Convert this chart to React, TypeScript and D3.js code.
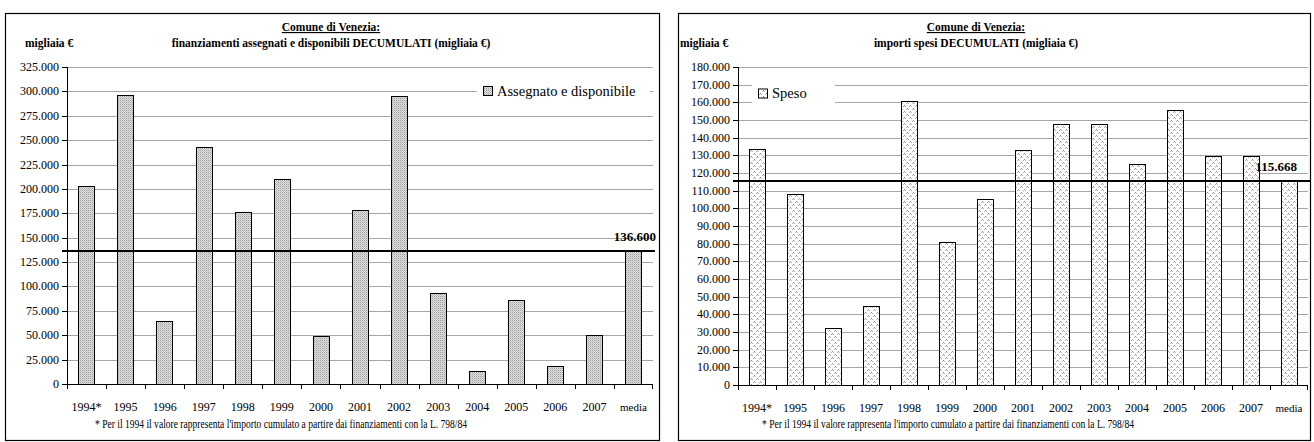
import React from 'react';
import * as d3 from 'd3';

const categories = ['1994*', '1995', '1996', '1997', '1998', '1999', '2000', '2001', '2002', '2003', '2004', '2005', '2006', '2007', 'media'];
const assegnatoValues = [203000, 296500, 65000, 243000, 176000, 210000, 49000, 178000, 295500, 93000, 13000, 86000, 18000, 50000, 136600];
const spesoValues = [133500, 108000, 32000, 45000, 160500, 81000, 105500, 133000, 148000, 148000, 125000, 155500, 129500, 129500, 115668];
const assegnatoMean = 136600;
const spesoMean = 115668;
const assegnatoTicks = d3.range(0, 325001, 25000);
const spesoTicks = d3.range(0, 180001, 10000);
const footnote = "* Per il 1994 il valore rappresenta l'importo cumulato a partire dai finanziamenti con la L. 798/84";

const it = d3.formatLocale({ decimal: ',', thousands: '.', grouping: [3], currency: ['€', ''] });
const fmt = it.format(',d');
const fmt3 = it.format(',.0f');

const FONT = "'Liberation Serif', 'Times New Roman', Times, serif";

type ChartProps = {
  box: [number, number, number, number];
  plot: { x0: number; x1: number; yTop: number; yBottom: number };
  yMax: number;
  ticks: number[];
  values: number[];
  mean: number;
  titleX: number;
  subtitle: string;
  unitX: number;
  legend: { x: number; y: number; w: number; h: number; label: string };
  pattern: string;
  footX: number;
  meanLabelX: number;
};

function Chart(p: ChartProps) {
  const x = d3.scaleBand<string>().domain(categories).range([p.plot.x0, p.plot.x1]).padding(0);
  const y = d3.scaleLinear().domain([0, p.yMax]).range([p.plot.yBottom, p.plot.yTop]);
  const bw = x.bandwidth() * 0.42;
  const [bx, by, bwid, bh] = p.box;
  const meanY = Math.round(y(p.mean));
  return (
    <g style={{ fontFamily: FONT }}>
      <rect x={bx + 0.5} y={by + 0.5} width={bwid} height={bh} fill="#fff" stroke="#000" strokeWidth={1.2} />
      {p.ticks.map((t) => (
        <line key={'g' + t} x1={p.plot.x0} x2={p.plot.x1} y1={Math.round(y(t)) + 0.5} y2={Math.round(y(t)) + 0.5} stroke="#a6a6a6" strokeWidth={1} />
      ))}
      <rect x={p.legend.x} y={p.legend.y} width={p.legend.w} height={p.legend.h} fill="#fff" />
      {p.values.map((v, i) => {
        const cx = (x(categories[i]) as number) + x.bandwidth() / 2;
        const top = y(v);
        return (
          <rect key={'b' + i} x={Math.round(cx - bw / 2) + 0.5} y={Math.round(top) + 0.5} width={Math.round(bw)} height={Math.round(y(0)) - Math.round(top)} fill={`url(#${p.pattern})`} stroke="#000" strokeWidth={1} />
        );
      })}
      <line x1={p.plot.x0 + 0.5} x2={p.plot.x0 + 0.5} y1={p.plot.yTop} y2={p.plot.yBottom + 0.5} stroke="#000" />
      {p.ticks.map((t) => (
        <g key={'t' + t}>
          <line x1={p.plot.x0 - 5} x2={p.plot.x0} y1={Math.round(y(t)) + 0.5} y2={Math.round(y(t)) + 0.5} stroke="#000" />
          <text x={p.plot.x0 - 8} y={y(t) + 4} textAnchor="end" fontSize={12} fontFamily={FONT}>{fmt(t)}</text>
        </g>
      ))}
      <line x1={p.plot.x0} x2={p.plot.x1} y1={Math.round(y(0)) + 0.5} y2={Math.round(y(0)) + 0.5} stroke="#000" />
      {categories.map((c, i) => (
        <line key={'xt' + i} x1={Math.round(x(c) as number) + 0.5} x2={Math.round(x(c) as number) + 0.5} y1={y(0)} y2={y(0) + 5} stroke="#000" />
      ))}
      <line x1={p.plot.x1 - 0.5} x2={p.plot.x1 - 0.5} y1={y(0)} y2={y(0) + 5} stroke="#000" />
      {categories.map((c) => (
        <text key={'xl' + c} x={(x(c) as number) + x.bandwidth() / 2} y={y(0) + 27} textAnchor="middle" fontSize={c === 'media' ? 11 : 12} fontFamily={FONT}>{c}</text>
      ))}
      <line x1={p.plot.x0 - 5} x2={p.plot.x1 + 2} y1={meanY} y2={meanY} stroke="#000" strokeWidth={2} />
      <text x={p.meanLabelX} y={meanY - 10} textAnchor="end" fontSize={13} fontWeight="bold" fontFamily={FONT}>{fmt3(p.mean)}</text>
      <rect x={p.legend.x + 6.5} y={p.legend.y + p.legend.h / 2 - 4.5} width={9} height={9} fill={`url(#${p.pattern})`} stroke="#000" />
      <text x={p.legend.x + 20} y={p.legend.y + p.legend.h / 2 + 4.5} fontSize={14.5} fontFamily={FONT}>{p.legend.label}</text>
      <text x={p.titleX} y={31} textAnchor="middle" fontSize={11.5} fontWeight="bold" fontFamily={FONT} textDecoration="underline">Comune di Venezia:</text>
      <text x={p.titleX} y={47} textAnchor="middle" fontSize={11.5} fontWeight="bold" fontFamily={FONT}>{p.subtitle}</text>
      <text x={p.unitX} y={47} fontSize={11.5} fontWeight="bold" fontFamily={FONT}>migliaia €</text>
      <text x={p.footX} y={428} fontSize={12.5} fontFamily={FONT} textLength={372} lengthAdjust="spacingAndGlyphs">{footnote}</text>
    </g>
  );
}

export default function App() {
  return (
    <svg width={1314} height={442} style={{ position: 'absolute', left: 0, top: 0, background: '#fff' }}>
      <defs>
        <pattern id="pDense" width={2} height={2} patternUnits="userSpaceOnUse">
          <rect width={2} height={2} fill="#dedede" />
          <rect x={0} y={0} width={1} height={1} fill="#a0a0a0" />
          <rect x={1} y={1} width={1} height={1} fill="#c4c4c4" />
        </pattern>
        <pattern id="pSparse" width={6} height={6} patternUnits="userSpaceOnUse">
          <rect width={6} height={6} fill="#fff" />
          <rect x={1} y={0} width={1} height={1} fill="#8c8c8c" />
          <rect x={0} y={1} width={1} height={1} fill="#b0b0b0" />
          <rect x={2} y={1} width={1} height={1} fill="#b0b0b0" />
          <rect x={4} y={3} width={1} height={1} fill="#8c8c8c" />
          <rect x={3} y={4} width={1} height={1} fill="#b0b0b0" />
          <rect x={5} y={4} width={1} height={1} fill="#b0b0b0" />
        </pattern>
      </defs>
      <Chart
        box={[5, 13, 654, 427]}
        plot={{ x0: 67, x1: 653, yTop: 67, yBottom: 384 }}
        yMax={325000}
        ticks={assegnatoTicks}
        values={assegnatoValues}
        mean={assegnatoMean}
        titleX={331}
        subtitle="finanziamenti assegnati e disponibili DECUMULATI (migliaia €)"
        unitX={25}
        legend={{ x: 477, y: 80, w: 173, h: 22, label: 'Assegnato e disponibile' }}
        pattern="pDense"
        footX={95}
        meanLabelX={656}
      />
      <Chart
        box={[678, 13, 632, 427]}
        plot={{ x0: 738, x1: 1308, yTop: 67, yBottom: 385 }}
        yMax={180000}
        ticks={spesoTicks}
        values={spesoValues}
        mean={spesoMean}
        titleX={976}
        subtitle="importi spesi DECUMULATI (migliaia €)"
        unitX={680}
        legend={{ x: 752, y: 79, w: 83, h: 29, label: 'Speso' }}
        pattern="pSparse"
        footX={762}
        meanLabelX={1297}
      />
    </svg>
  );
}
